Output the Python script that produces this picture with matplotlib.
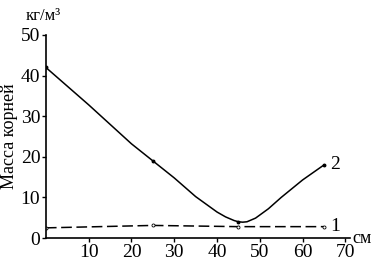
import matplotlib.pyplot as plt

plt.rcParams['font.family'] = ['Liberation Serif', 'DejaVu Serif']

# curve 2 (solid)
depth2 = [0, 10, 20, 25, 30, 35, 40, 42, 44, 45, 46, 47, 49, 52, 55, 60, 65]
mass2 = [42, 32.8, 23.2, 19, 14.8, 10.2, 6.4, 5.2, 4.3, 4.0, 3.9, 4.0, 4.9, 7.2, 10, 14.3, 18]
mark_x2 = [0, 25, 45, 65]
mark_y2 = [42, 19, 4.0, 18]

# curve 1 (dashed)
depth1 = [0, 25, 45, 65]
mass1 = [2.5, 3.1, 2.8, 2.8]

xticks = [10, 20, 30, 40, 50, 60, 70]
yticks = [0, 10, 20, 30, 40, 50]

fig = plt.figure(figsize=(3.76, 2.63), dpi=100)
ax = fig.add_axes([0.122, 0.095, 0.808, 0.772])

ax.plot(depth2, mass2, color='black', lw=1.1)
ax.plot(mark_x2, mark_y2, 'o', color='black', ms=1.8)
ax.plot(depth1, mass1, color='black', lw=1.1, dashes=(7, 3))
ax.plot(depth1, mass1, 'o', color='black', mfc='white', ms=2.2, mew=0.6)

ax.set_xlim(0, 71)
ax.set_ylim(0, 50)
ax.set_xticks(xticks)
ax.set_yticks(yticks)
ax.spines['top'].set_visible(False)
ax.spines['right'].set_visible(False)
ax.spines['left'].set_linewidth(1.2)
ax.spines['bottom'].set_linewidth(1.2)
ax.tick_params(labelsize=14, length=3, width=1, pad=1)
ax.set_ylabel('Масса корней', fontsize=13, labelpad=2)

fig.text(0.068, 0.94, 'кг/м³', fontsize=12, ha='left', va='center')
fig.text(0.937, 0.076, 'см', fontsize=13, ha='left', va='baseline')
ax.text(66.5, 18, '2', fontsize=14, va='center')
ax.text(66.5, 2.8, '1', fontsize=14, va='center')

fig.savefig('out.png', dpi=100)
